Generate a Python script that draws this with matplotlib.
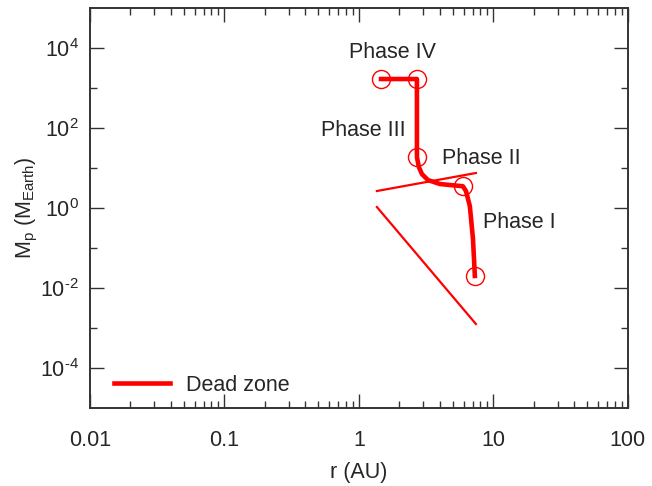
import numpy as np
import matplotlib
matplotlib.use('Agg')
import matplotlib.pyplot as plt
from matplotlib.ticker import FixedLocator, FuncFormatter, LogLocator, NullFormatter

plt.rcParams['font.family'] = ['Liberation Sans', 'DejaVu Sans']
plt.rcParams['mathtext.fontset'] = 'custom'
plt.rcParams['mathtext.rm'] = 'Liberation Sans'
plt.rcParams['mathtext.it'] = 'Liberation Sans:italic'
plt.rcParams['mathtext.default'] = 'regular'

# growth track of the planet (r in AU, Mp in Earth masses)
track_r = [7.28, 7.05, 6.68, 6.25, 5.93, 4.0, 3.26, 2.94, 2.79, 2.70, 2.70, 1.46]
track_m = [0.020, 0.168, 1.12, 2.66, 3.5, 3.98, 5.0, 7.08, 10.6, 18.8, 1679, 1679]

# phase boundaries (open circles)
circ_r = [1.46, 2.70, 2.70, 5.93, 7.28]
circ_m = [1679, 1679, 18.8, 3.5, 0.020]

# thin reference lines
lineA_r = [1.36, 7.41]
lineA_m = [2.66, 7.5]
lineB_r = [1.36, 7.41]
lineB_m = [1.06, 1.26e-3]

phase_names = ['Phase IV', 'Phase III', 'Phase II', 'Phase I']
phase_r = [1.79, 1.07, 8.2, 15.5]
phase_m = [7900, 89, 16.8, 0.445]

fs = 15.5
txt = '#262626'

fig = plt.figure(figsize=(6.52, 4.86), dpi=100)
ax = fig.add_axes([0.138, 0.1605, 0.825, 0.823])

ax.plot(track_r, track_m, color='red', lw=3.3, solid_joinstyle='round', label='Dead zone')
ax.plot(circ_r, circ_m, 'o', ms=13, mfc='none', mec='red', mew=1.0)
ax.plot(lineA_r, lineA_m, color='red', lw=1.6)
ax.plot(lineB_r, lineB_m, color='red', lw=1.6)

for name, r, m in zip(phase_names, phase_r, phase_m):
    ax.text(r, m, name, ha='center', va='center', fontsize=fs, color=txt)

ax.set_xscale('log')
ax.set_yscale('log')
ax.set_xlim(0.01, 100)
ax.set_ylim(1e-5, 1e5)


def ylab(v, p):
    e = int(round(np.log10(v)))
    s = str(e).replace('-', '\u2010')
    return '$10^{%s}$' % s


ax.xaxis.set_major_locator(FixedLocator([0.01, 0.1, 1, 10, 100]))
ax.xaxis.set_minor_locator(LogLocator(base=10, subs=np.arange(2, 10), numticks=20))
ax.xaxis.set_major_formatter(FuncFormatter(lambda v, p: '%g' % v))
ax.xaxis.set_minor_formatter(NullFormatter())

ax.yaxis.set_major_locator(FixedLocator([1e-4, 1e-2, 1e0, 1e2, 1e4]))
ax.yaxis.set_minor_locator(FixedLocator([1e-3, 1e-1, 1e1, 1e3]))
ax.yaxis.set_major_formatter(FuncFormatter(ylab))
ax.yaxis.set_minor_formatter(NullFormatter())

ax.tick_params(which='both', direction='in', top=True, right=True, colors='#333333',
               labelcolor=txt, labelsize=fs, width=1.0)
ax.tick_params(which='major', length=10)
ax.tick_params(which='minor', length=5)
ax.tick_params(axis='x', which='major', pad=15.5)
ax.tick_params(axis='y', which='major', pad=8)
for s in ax.spines.values():
    s.set_color('#333333')
    s.set_linewidth(1.4)

ax.set_xlabel('r (AU)', fontsize=fs, color=txt, labelpad=8)
ax.set_ylabel('$M_p\\ (M_{Earth})$', fontsize=fs, color=txt, labelpad=0)

ax.legend(loc='lower left', bbox_to_anchor=(0.008, -0.0175), frameon=False, fontsize=fs,
          handlelength=2.6, handletextpad=0.75, labelcolor=txt)

fig.savefig('out.png', dpi=100)
